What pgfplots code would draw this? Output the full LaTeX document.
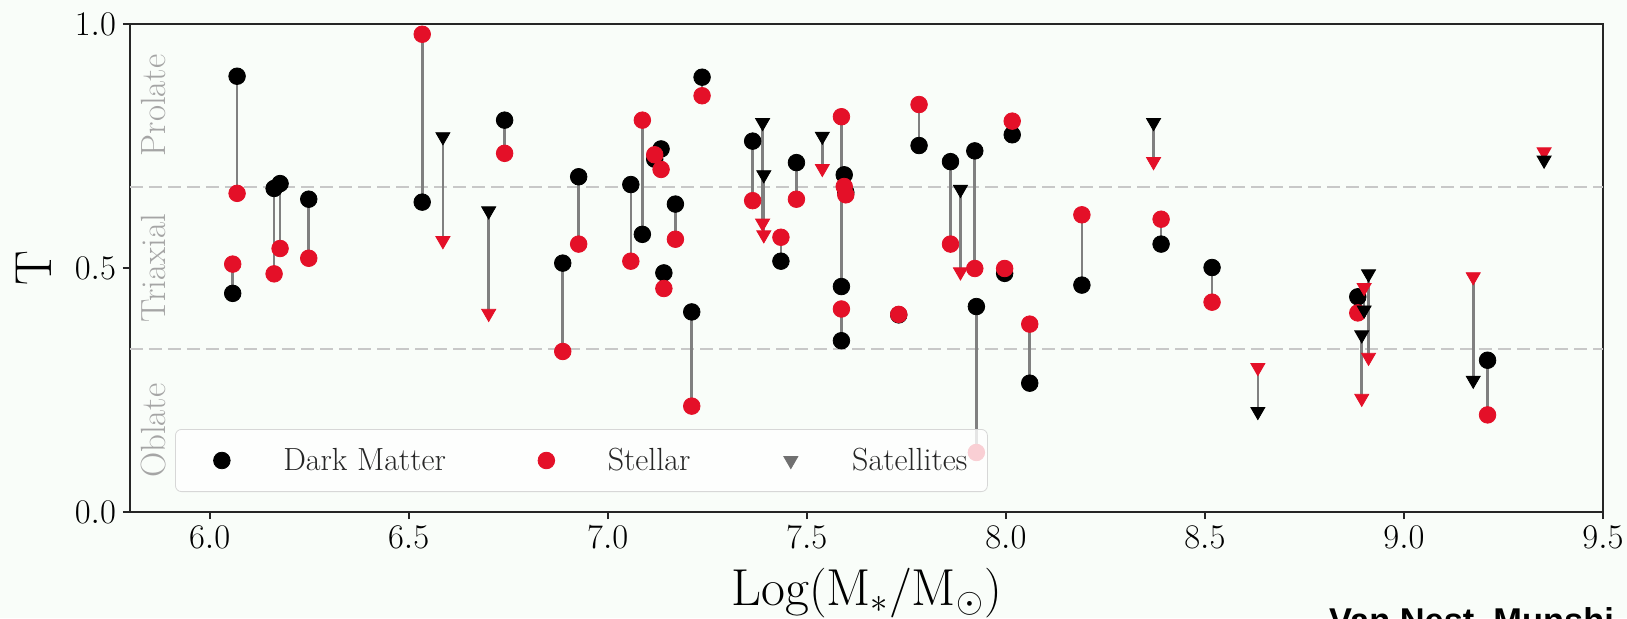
\documentclass[border=0pt]{standalone}
\usepackage{fontspec}
\usepackage{pgfplots}
\pgfplotsset{compat=1.18}
\usepackage{pgfplotstable}
\newfontfamily\creditfont{Liberation Sans}

\definecolor{starred}{RGB}{228,16,40}
\definecolor{linkgray}{RGB}{128,128,128}
\definecolor{regiongray}{RGB}{165,165,165}
\definecolor{dashgray}{RGB}{200,200,200}
\definecolor{legendgray}{RGB}{112,112,112}
\definecolor{framegray}{RGB}{215,215,215}
\definecolor{pagebg}{RGB}{249,253,249}

% Triaxiality of dark matter (dm) and stellar (st) components, per galaxy
\pgfplotstableread{
x     dm    st
6.058 0.448 0.508
6.069 0.893 0.653
6.162 0.663 0.488
6.177 0.673 0.540
6.249 0.641 0.520
6.534 0.635 0.979
6.741 0.803 0.735
6.887 0.510 0.329
6.927 0.687 0.549
7.058 0.671 0.514
7.087 0.569 0.803
7.118 0.723 0.732
7.134 0.744 0.702
7.141 0.490 0.458
7.170 0.631 0.559
7.211 0.410 0.217
7.237 0.891 0.853
7.364 0.760 0.638
7.435 0.514 0.563
7.474 0.716 0.641
7.587 0.462 0.810
7.587 0.351 0.416
7.594 0.691 0.667
7.598 0.655 0.650
7.731 0.404 0.405
7.782 0.751 0.835
7.861 0.718 0.549
7.922 0.740 0.499
7.926 0.421 0.122
7.997 0.489 0.499
8.016 0.773 0.801
8.060 0.264 0.385
8.191 0.465 0.609
8.390 0.549 0.600
8.518 0.501 0.430
8.884 0.441 0.408
9.210 0.311 0.199
}\galaxies

% Same quantities for the satellite systems
\pgfplotstableread{
x     dm    st
6.586 0.769 0.556
6.701 0.617 0.407
7.389 0.798 0.592
7.392 0.691 0.568
7.539 0.770 0.704
7.886 0.661 0.492
8.371 0.798 0.718
8.633 0.206 0.296
8.894 0.363 0.233
8.900 0.414 0.460
8.911 0.488 0.317
9.174 0.270 0.482
9.352 0.721 0.738
}\satellites

\begin{document}
\begin{tikzpicture}
\fill[pagebg] (-65pt,-53pt) rectangle (748.5pt,256pt);
\begin{axis}[
  at={(0pt,0pt)}, anchor=south west,
  scale only axis, width=736.5pt, height=244pt,
  xmin=5.8, xmax=9.5, ymin=0, ymax=1,
  xtick={6,6.5,...,9.5}, ytick={0,0.5,1},
  tick pos=left, tick align=outside, major tick length=3.5pt,
  axis line style={line width=1pt, black!85},
  tick style={line width=1pt, black!85},
  tick label style={font=\fontsize{16}{19}\selectfont},
  xticklabel style={/pgf/number format/.cd, fixed, fixed zerofill, precision=1},
  yticklabel style={/pgf/number format/.cd, fixed, fixed zerofill, precision=1},
  xlabel={$\mathrm{Log}(\mathrm{M}_{*}/\mathrm{M}_{\odot})$},
  ylabel={T},
  label style={font=\fontsize{26}{30}\selectfont},
  xlabel style={at={(axis description cs:0.5,-0.1906)}, anchor=base},
  ylabel style={at={(axis description cs:-0.0532,0.5)}, anchor=base},
  legend columns=3,
  legend cell align=left,
  legend style={
    at={(axis description cs:0.0306,0.041)}, anchor=south west,
    draw=framegray, fill=white, fill opacity=0.8, text opacity=1,
    rounded corners=3pt, inner xsep=8pt, inner ysep=7.2pt,
    font=\fontsize{16}{19}\selectfont, text=black!85,
    nodes={inner sep=2pt},
    /tikz/every even column/.append style={column sep=33pt}},
  legend image code/.code={%
    \path (0pt,0pt) (43.5pt,0pt);
    \draw[sharp corners,opacity=1,#1] plot coordinates {(15pt,0pt)};},
]

% shape class boundaries
\addplot[forget plot, dashgray, line width=1pt, dash pattern=on 6.5pt off 3pt]
  coordinates {(5.8,0.3333) (9.5,0.3333)};
\addplot[forget plot, dashgray, line width=1pt, dash pattern=on 6.5pt off 3pt]
  coordinates {(5.8,0.6667) (9.5,0.6667)};

\node[rotate=90, text=regiongray, font=\fontsize{17.5}{20}\selectfont]
  at (axis cs:5.859,0.8333) {Prolate};
\node[rotate=90, text=regiongray, font=\fontsize{17.5}{20}\selectfont]
  at (axis cs:5.859,0.5) {Triaxial};
\node[rotate=90, text=regiongray, font=\fontsize{17.5}{20}\selectfont]
  at (axis cs:5.859,0.1667) {Oblate};

% connectors between the two components of each system
\addplot[forget plot, draw=none, mark=none,
  error bars/.cd, y dir=both, y explicit, error mark=none,
  error bar style={draw=linkgray, line width=1.3pt, solid}]
  table[x=x, y expr={(\thisrow{dm}+\thisrow{st})/2},
        y error expr={abs(\thisrow{dm}-\thisrow{st})/2}] {\galaxies};
\addplot[forget plot, draw=none, mark=none,
  error bars/.cd, y dir=both, y explicit, error mark=none,
  error bar style={draw=linkgray, line width=1.3pt, solid}]
  table[x=x, y expr={(\thisrow{dm}+\thisrow{st})/2},
        y error expr={abs(\thisrow{dm}-\thisrow{st})/2}] {\satellites};

% galaxies
\addplot[only marks, mark=*, mark size=4.15pt,
  mark options={draw=black, fill=black}]
  table[x=x, y=dm] {\galaxies};
\addlegendentry{Dark Matter}
\addplot[only marks, mark=*, mark size=4.15pt,
  mark options={draw=starred, fill=starred}]
  table[x=x, y=st] {\galaxies};
\addlegendentry{Stellar}

% satellites
\addplot[forget plot, only marks, mark=triangle*, mark size=4.05pt,
  mark options={rotate=180, draw=starred, fill=starred}]
  table[x=x, y=st] {\satellites};
\addplot[forget plot, only marks, mark=triangle*, mark size=4.05pt,
  mark options={rotate=180, draw=black, fill=black}]
  table[x=x, y=dm] {\satellites};

\addlegendimage{only marks, mark=triangle*, mark size=4.05pt,
  mark options={rotate=180, draw=legendgray, fill=legendgray}}
\addlegendentry{Satellites}
\end{axis}

\node[anchor=base west, font=\creditfont\bfseries\fontsize{17.2}{20}\selectfont]
  at (596pt,-60.3pt) {Van Nest, Munshi, et al.};

\pgfresetboundingbox
\useasboundingbox (-65pt,-53pt) rectangle (748.5pt,256pt);
\end{tikzpicture}
\end{document}
